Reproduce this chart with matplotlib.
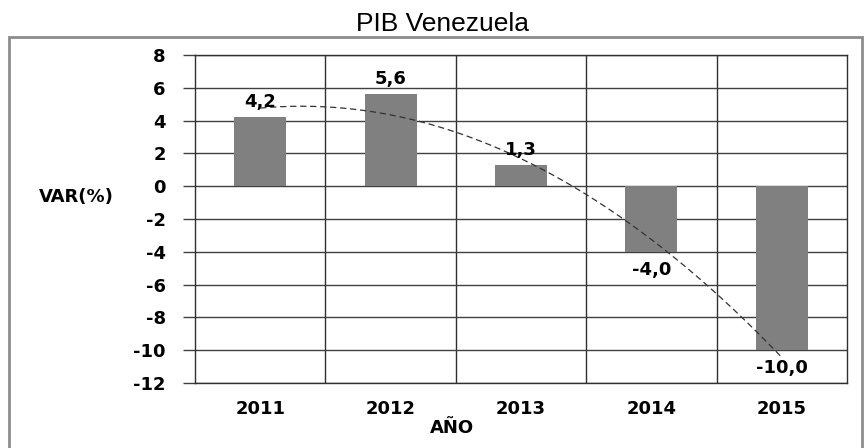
import numpy as np
import matplotlib
matplotlib.use("Agg")
import matplotlib.pyplot as plt
from matplotlib.patches import Rectangle

# datos
anios = ["2011", "2012", "2013", "2014", "2015"]
var_pib = [4.2, 5.6, 1.3, -4.0, -10.0]
yticks = [8, 6, 4, 2, 0, -2, -4, -6, -8, -10, -12]

fig = plt.figure(figsize=(8.67, 4.48), dpi=100)
ax = fig.add_axes([195 / 867, 1 - 383 / 448, 652 / 867, 328 / 448])

x = np.arange(len(anios))
ax.bar(x, var_pib, width=0.4, color="#808080", zorder=2)

# linea de tendencia polinomica (orden 2)
coef = np.polyfit(x, var_pib, 2)
xs = np.linspace(0, len(anios) - 1, 200)
ax.plot(xs, np.polyval(coef, xs), color="#333333", lw=0.9,
        linestyle=(0, (5, 3)), zorder=3)

fuente = dict(family="DejaVu Sans", fontweight="bold", fontsize=13)

for i, v in enumerate(var_pib):
    txt = f"{v:.1f}".replace(".", ",")
    off = 15 if v >= 0 else -18
    ax.annotate(txt, (i, v), xytext=(0, off), textcoords="offset pixels",
                ha="center", va="center", zorder=4, **fuente)

ax.set_xlim(-0.5, len(anios) - 0.5)
ax.set_ylim(-12, 8)
ax.set_yticks(yticks)
ax.set_yticklabels([str(t) for t in yticks], **fuente)
ax.set_xticks(x)
ax.set_xticklabels(anios, **fuente)
ax.set_xticks(np.arange(0.5, len(anios) - 1, 1), minor=True)

ax.grid(True, axis="y", color="#404040", lw=1, zorder=1)
ax.grid(True, axis="x", which="minor", color="#303030", lw=1, zorder=1)
ax.tick_params(axis="y", length=9, width=1, color="#404040", pad=12)
ax.tick_params(axis="x", length=0, pad=12)
ax.tick_params(axis="x", which="minor", length=0)
for s in ax.spines.values():
    s.set_color("#303030")
    s.set_linewidth(1)

fig.text(443 / 867, 1 - 24 / 448, "PIB Venezuela", ha="center", va="center",
         family="Liberation Sans", fontsize=19)
fig.text(76 / 867, 1 - 197 / 448, "VAR(%)", ha="center", va="center", **fuente)
fig.text(452 / 867, 1 - 428 / 448, "AÑO", ha="center", va="center", **fuente)

# marco exterior
fig.add_artist(Rectangle((9 / 867, -0.05), 853 / 867, 1.05 - 37 / 448,
                         transform=fig.transFigure, fill=False,
                         edgecolor="#8c8c8c", lw=2))

fig.savefig("out.png", dpi=100)
